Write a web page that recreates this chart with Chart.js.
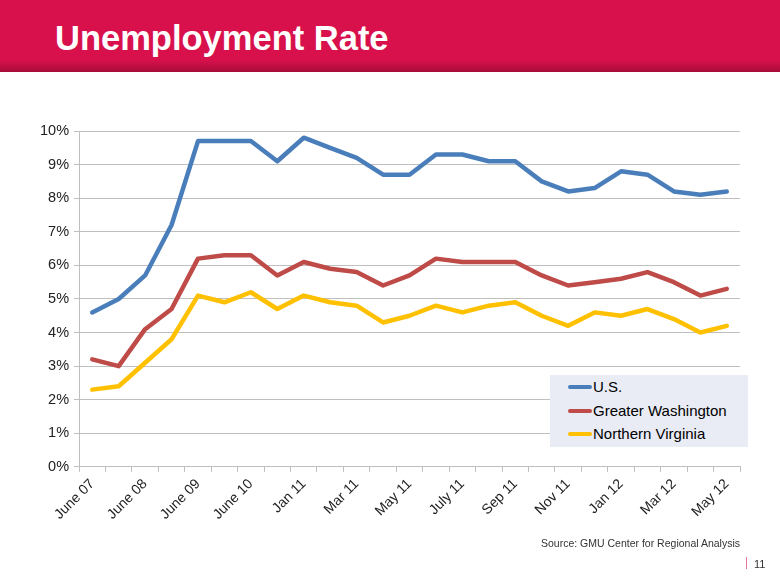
<!DOCTYPE html>
<html>
<head>
<meta charset="utf-8">
<script src="https://cdn.jsdelivr.net/npm/chart.js@4.4.0/dist/chart.umd.min.js"></script>
<style>
    body { margin:0; width:780px; height:585px; background:#fff; position:relative; overflow:hidden; font-family:"Liberation Sans", Arial, sans-serif; }
    #cabecera { position:absolute; left:0; top:0; width:780px; height:72px;
        background:linear-gradient(to bottom, #D8114D 0px, #D8114D 60px, #B80E40 68px, #A50C39 72px); }
    #titulo { position:absolute; left:55px; top:19px; color:#fff; font-weight:bold; font-size:34.5px; white-space:nowrap; }
    #contenedor { position:absolute; left:0; top:100px; width:780px; height:450px; }
    #leyenda { position:absolute; left:550px; top:375px; width:198px; height:72px; background:#E9ECF4; }
    .item { position:absolute; left:18px; height:20px; font-size:15px; color:#000; white-space:nowrap; }
    .linea { display:inline-block; width:24px; height:4px; border-radius:2px; vertical-align:middle; margin-right:1px; position:relative; top:-1px; }
    #fuente { position:absolute; left:541px; top:537px; font-size:10.5px; color:#333; white-space:nowrap; }
    #pagina { position:absolute; left:746px; top:557px; font-size:11px; color:#333; }
    #pagina span { display:inline-block; width:1px; height:12px; background:#E8769A; margin-right:7px; vertical-align:-1px; }
</style>
</head>
<body>
<div id="cabecera"><div id="titulo">Unemployment Rate</div></div>
<div id="contenedor"><canvas id="myChart"></canvas></div>
<div id="leyenda"></div>
<div id="fuente">Source: GMU Center for Regional Analysis</div>
<div id="pagina"><span></span>11</div>
<script>
var meses = ['June 07', 'Dec 07', 'June 08', 'Dec 08', 'June 09', 'Dec 09', 'June 10', 'Oct 10',
    'Jan 11', 'Feb 11', 'Mar 11', 'Apr 11', 'May 11', 'June 11', 'July 11', 'Aug 11', 'Sep 11',
    'Oct 11', 'Nov 11', 'Dec 11', 'Jan 12', 'Feb 12', 'Mar 12', 'Apr 12', 'May 12'];
var series = ['U.S.', 'Greater Washington', 'Northern Virginia'];
var usa = [4.6, 5.0, 5.7, 7.2, 9.7, 9.7, 9.7, 9.1, 9.8, 9.5, 9.2, 8.7, 8.7, 9.3, 9.3, 9.1, 9.1, 8.5, 8.2, 8.3, 8.8, 8.7, 8.2, 8.1, 8.2];
var washington = [3.2, 3.0, 4.1, 4.7, 6.2, 6.3, 6.3, 5.7, 6.1, 5.9, 5.8, 5.4, 5.7, 6.2, 6.1, 6.1, 6.1, 5.7, 5.4, 5.5, 5.6, 5.8, 5.5, 5.1, 5.3];
var virginia = [2.3, 2.4, 3.1, 3.8, 5.1, 4.9, 5.2, 4.7, 5.1, 4.9, 4.8, 4.3, 4.5, 4.8, 4.6, 4.8, 4.9, 4.5, 4.2, 4.6, 4.5, 4.7, 4.4, 4.0, 4.2];
var colores = ['#4A7EBB', '#BE4B48', '#FFC000'];
var valores = [usa, washington, virginia];

var datasets = [];
for (var i = 0; i < series.length; i++) {
    datasets.push({
        label: series[i],
        data: valores[i],
        borderColor: colores[i],
        backgroundColor: colores[i],
        borderWidth: 4.5,
        pointRadius: 0,
        tension: 0,
        borderCapStyle: 'round',
        borderJoinStyle: 'round'
    });
}

// leyenda a mano, dentro del area del grafico
var leyenda = document.getElementById('leyenda');
for (var i = 0; i < series.length; i++) {
    var div = document.createElement('div');
    div.className = 'item';
    div.style.top = (3 + i * 23.5) + 'px';
    div.innerHTML = '<span class="linea" style="background:' + colores[i] + '"></span>' + series[i];
    leyenda.appendChild(div);
}

var ctx = document.getElementById('myChart').getContext('2d');
var myChart = new Chart(ctx, {
    type: 'line',
    data: {
        labels: meses,
        datasets: datasets
    },
    options: {
        responsive: true,
        maintainAspectRatio: false,
        animation: false,
        layout: {
            padding: { left: 35, right: 40, top: 31, bottom: 23 }
        },
        plugins: {
            legend: { display: false },
            tooltip: { enabled: false }
        },
        scales: {
            x: {
                offset: true,
                grid: {
                    offset: true,
                    drawOnChartArea: false,
                    drawTicks: true,
                    tickLength: 5,
                    color: '#BFBFBF'
                },
                border: { color: '#BFBFBF' },
                ticks: {
                    autoSkip: false,
                    maxRotation: 45,
                    minRotation: 45,
                    color: '#222',
                    padding: 4,
                    font: { family: '"Liberation Sans", Arial', size: 14 },
                    callback: function (valor, indice) {
                        return indice % 2 == 0 ? meses[indice] : '';
                    }
                }
            },
            y: {
                min: 0,
                max: 10,
                grid: {
                    color: '#BFBFBF',
                    tickLength: 5
                },
                border: { color: '#BFBFBF' },
                ticks: {
                    stepSize: 1,
                    color: '#222',
                    padding: 5,
                    font: { family: '"Liberation Sans", Arial', size: 14.5 },
                    callback: function (valor) {
                        return valor + '%';
                    }
                }
            }
        }
    }
});
</script>
</body>
</html>
